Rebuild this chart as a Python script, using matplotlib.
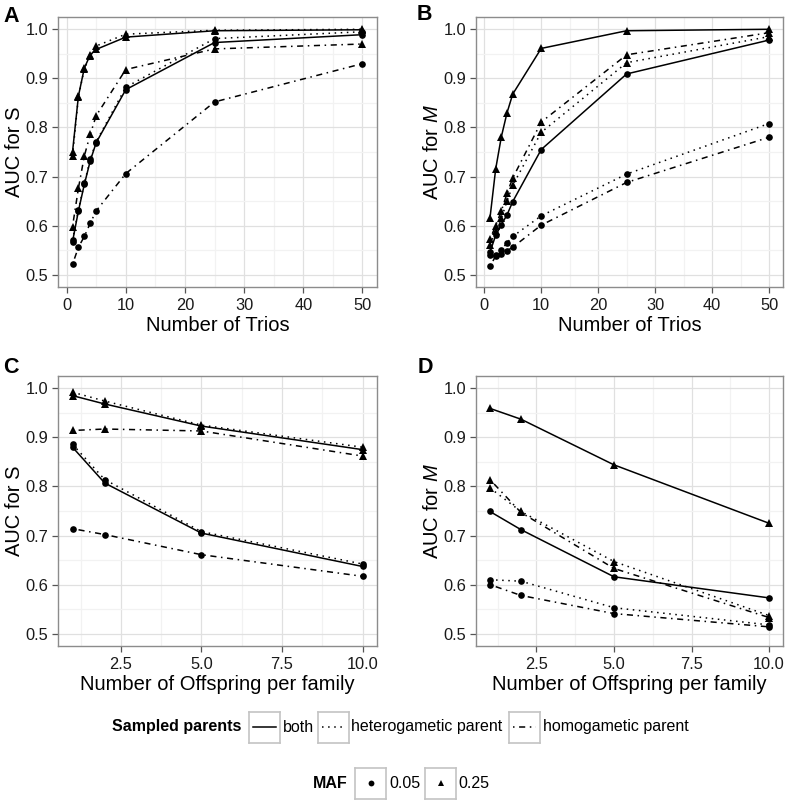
import matplotlib

matplotlib.use("Agg")
import matplotlib.pyplot as plt
from matplotlib.lines import Line2D
from matplotlib.ticker import FixedLocator

plt.rcParams["font.family"] = ["Liberation Sans", "DejaVu Sans"]
plt.rcParams["mathtext.fontset"] = "custom"
plt.rcParams["mathtext.rm"] = "Liberation Sans"
plt.rcParams["mathtext.it"] = "Liberation Sans:italic"

FIG_W, FIG_H = 797, 800

# x values
TRIOS = [1, 2, 3, 4, 5, 10, 25, 50]
OFFSPRING = [1, 2, 5, 10]

# panel A: AUC for S vs number of trios
s_trio_both_05 = [0.567, 0.630, 0.684, 0.732, 0.769, 0.877, 0.973, 0.989]
s_trio_het_05 = [0.570, 0.632, 0.686, 0.735, 0.771, 0.882, 0.981, 0.995]
s_trio_hom_05 = [0.521, 0.556, 0.578, 0.605, 0.630, 0.706, 0.852, 0.930]
s_trio_both_25 = [0.750, 0.864, 0.921, 0.948, 0.959, 0.984, 0.997, 0.999]
s_trio_het_25 = [0.742, 0.862, 0.920, 0.945, 0.966, 0.990, 0.998, 1.000]
s_trio_hom_25 = [0.598, 0.676, 0.742, 0.786, 0.824, 0.918, 0.960, 0.970]

# panel B: AUC for M vs number of trios
m_trio_both_05 = [0.546, 0.580, 0.602, 0.622, 0.649, 0.755, 0.909, 0.978]
m_trio_het_05 = [0.540, 0.540, 0.551, 0.565, 0.578, 0.620, 0.705, 0.808]
m_trio_hom_05 = [0.517, 0.538, 0.543, 0.549, 0.556, 0.601, 0.688, 0.780]
m_trio_both_25 = [0.615, 0.715, 0.781, 0.830, 0.868, 0.961, 0.997, 1.000]
m_trio_het_25 = [0.560, 0.590, 0.615, 0.650, 0.682, 0.790, 0.932, 0.985]
m_trio_hom_25 = [0.572, 0.600, 0.630, 0.666, 0.697, 0.811, 0.948, 0.993]

# panel C: AUC for S vs offspring per family
s_off_both_05 = [0.880, 0.807, 0.705, 0.637]
s_off_het_05 = [0.886, 0.814, 0.708, 0.642]
s_off_hom_05 = [0.714, 0.702, 0.661, 0.617]
s_off_both_25 = [0.985, 0.968, 0.923, 0.875]
s_off_het_25 = [0.992, 0.974, 0.925, 0.880]
s_off_hom_25 = [0.914, 0.917, 0.913, 0.862]

# panel D: AUC for M vs offspring per family
m_off_both_05 = [0.749, 0.712, 0.616, 0.573]
m_off_het_05 = [0.610, 0.607, 0.553, 0.518]
m_off_hom_05 = [0.600, 0.578, 0.541, 0.514]
m_off_both_25 = [0.959, 0.937, 0.844, 0.725]
m_off_het_25 = [0.797, 0.749, 0.647, 0.537]
m_off_hom_25 = [0.814, 0.747, 0.633, 0.533]

PARENTS = ["both", "heterogametic parent", "homogametic parent"]
MAFS = ["0.05", "0.25"]

LINESTYLES = {
    "both": "-",
    "heterogametic parent": (0, (1, 3)),
    "homogametic parent": (0, (1, 3, 4, 3)),
}
MARKERS = {"0.05": "o", "0.25": "^"}
MARKER_SIZES = {"0.05": 4.8, "0.25": 5.2}
LINE_WIDTH = 1.1
TICK_SIZE = 11.8
TITLE_SIZE = 14.5


def px_box(left, top, right, bottom):
    return [left / FIG_W, 1 - bottom / FIG_H, (right - left) / FIG_W, (bottom - top) / FIG_H]


def draw_panel(axis, x_values, series, ylabel, xlabel, xticks, xminor, xlim):
    axis.set_axisbelow(True)
    for (parent, maf), values in series.items():
        axis.plot(
            x_values,
            values,
            color="black",
            linewidth=LINE_WIDTH,
            linestyle=LINESTYLES[parent],
            dash_capstyle="butt",
            marker=MARKERS[maf],
            markersize=MARKER_SIZES[maf],
            markeredgewidth=0,
            zorder=3,
        )
    axis.set_xlim(*xlim)
    axis.set_ylim(0.475, 1.025)
    axis.xaxis.set_major_locator(FixedLocator(xticks))
    axis.xaxis.set_minor_locator(FixedLocator(xminor))
    axis.yaxis.set_major_locator(FixedLocator([0.5, 0.6, 0.7, 0.8, 0.9, 1.0]))
    axis.yaxis.set_minor_locator(FixedLocator([0.55, 0.65, 0.75, 0.85, 0.95]))
    axis.set_yticklabels(["0.5", "0.6", "0.7", "0.8", "0.9", "1.0"])
    if isinstance(xticks[0], float):
        axis.set_xticklabels([f"{t:.1f}" for t in xticks])
    axis.grid(True, which="major", color="#e0e0e0", linewidth=0.9, zorder=0)
    axis.grid(True, which="minor", color="#f2f2f2", linewidth=0.9, zorder=0)
    axis.tick_params(which="major", length=4.5, width=0.9, color="#555555",
                     labelsize=TICK_SIZE, labelcolor="#1a1a1a")
    axis.tick_params(axis="x", which="major", pad=3.5)
    axis.tick_params(axis="y", which="major", pad=2.3)
    axis.tick_params(which="minor", length=0)
    for spine in axis.spines.values():
        spine.set_color("#8c8c8c")
        spine.set_linewidth(1.0)
    axis.set_ylabel(ylabel, fontsize=TITLE_SIZE, labelpad=1)
    axis.set_xlabel(xlabel, fontsize=TITLE_SIZE, labelpad=2)


figure = plt.figure(figsize=(FIG_W / 100, FIG_H / 100), dpi=100)

trio_ticks = [0, 10, 20, 30, 40, 50]
trio_minor = [5, 15, 25, 35, 45]
trio_lim = (1 - 0.05 * 49, 50 + 0.05 * 49)
off_ticks = [2.5, 5.0, 7.5, 10.0]
off_minor = [1.25, 3.75, 6.25, 8.75]
off_lim = (1 - 0.05 * 9, 10 + 0.05 * 9)

panel_a = figure.add_axes(px_box(58, 17, 377, 287))
draw_panel(
    panel_a, TRIOS,
    {
        ("homogametic parent", "0.05"): s_trio_hom_05,
        ("heterogametic parent", "0.05"): s_trio_het_05,
        ("both", "0.05"): s_trio_both_05,
        ("homogametic parent", "0.25"): s_trio_hom_25,
        ("heterogametic parent", "0.25"): s_trio_het_25,
        ("both", "0.25"): s_trio_both_25,
    },
    "AUC for S", "Number of Trios", trio_ticks, trio_minor, trio_lim,
)

panel_b = figure.add_axes(px_box(476, 17, 783, 287))
draw_panel(
    panel_b, TRIOS,
    {
        ("homogametic parent", "0.05"): m_trio_hom_05,
        ("heterogametic parent", "0.05"): m_trio_het_05,
        ("both", "0.05"): m_trio_both_05,
        ("homogametic parent", "0.25"): m_trio_hom_25,
        ("heterogametic parent", "0.25"): m_trio_het_25,
        ("both", "0.25"): m_trio_both_25,
    },
    r"AUC for $\mathit{M}$", "Number of Trios", trio_ticks, trio_minor, trio_lim,
)

panel_c = figure.add_axes(px_box(58, 376, 377, 646))
draw_panel(
    panel_c, OFFSPRING,
    {
        ("homogametic parent", "0.05"): s_off_hom_05,
        ("heterogametic parent", "0.05"): s_off_het_05,
        ("both", "0.05"): s_off_both_05,
        ("homogametic parent", "0.25"): s_off_hom_25,
        ("heterogametic parent", "0.25"): s_off_het_25,
        ("both", "0.25"): s_off_both_25,
    },
    "AUC for S", "Number of Offspring per family", off_ticks, off_minor, off_lim,
)

panel_d = figure.add_axes(px_box(476, 376, 783, 646))
draw_panel(
    panel_d, OFFSPRING,
    {
        ("homogametic parent", "0.05"): m_off_hom_05,
        ("heterogametic parent", "0.05"): m_off_het_05,
        ("both", "0.05"): m_off_both_05,
        ("homogametic parent", "0.25"): m_off_hom_25,
        ("heterogametic parent", "0.25"): m_off_het_25,
        ("both", "0.25"): m_off_both_25,
    },
    r"AUC for $\mathit{M}$", "Number of Offspring per family", off_ticks, off_minor, off_lim,
)

for letter, left, baseline in [("A", 3, 22), ("B", 417, 20), ("C", 3, 373), ("D", 418, 373)]:
    figure.text(left / FIG_W, 1 - baseline / FIG_H, letter, fontsize=15.5,
                fontweight="bold", ha="left", va="baseline")


# legends drawn as ggplot-style boxed keys
def legend_key(left, center_y, size=31):
    top = center_y - size / 2
    key = figure.add_axes(px_box(left, top, left + size, top + size))
    key.set_xlim(0, 1)
    key.set_ylim(0, 1)
    key.set_xticks([])
    key.set_yticks([])
    for spine in key.spines.values():
        spine.set_color("#c4c4c4")
        spine.set_linewidth(1.2)
    return key


def legend_text(left, center_y, text, bold=False):
    figure.text(left / FIG_W, 1 - center_y / FIG_H, text, fontsize=11.5,
                fontweight="bold" if bold else "normal", ha="left", va="center")


row1_y = 727
legend_text(112, row1_y, "Sampled parents", bold=True)
for parent, key_left, text_left in zip(PARENTS, [249, 318, 509], [283, 351, 543]):
    key = legend_key(key_left, row1_y)
    key.add_line(Line2D([0.12, 0.88], [0.5, 0.5], color="black", linewidth=LINE_WIDTH,
                        linestyle=LINESTYLES[parent], dash_capstyle="butt"))
    legend_text(text_left, row1_y, parent)

row2_y = 783
legend_text(313, row2_y, "MAF", bold=True)
for maf, key_left, text_left in zip(MAFS, [355, 425], [389, 458]):
    key = legend_key(key_left, row2_y)
    key.plot([0.5], [0.5], color="black", marker=MARKERS[maf],
             markersize=MARKER_SIZES[maf] - 0.6, markeredgewidth=0)
    legend_text(text_left, row2_y, maf)

figure.savefig("out.png", dpi=100)
